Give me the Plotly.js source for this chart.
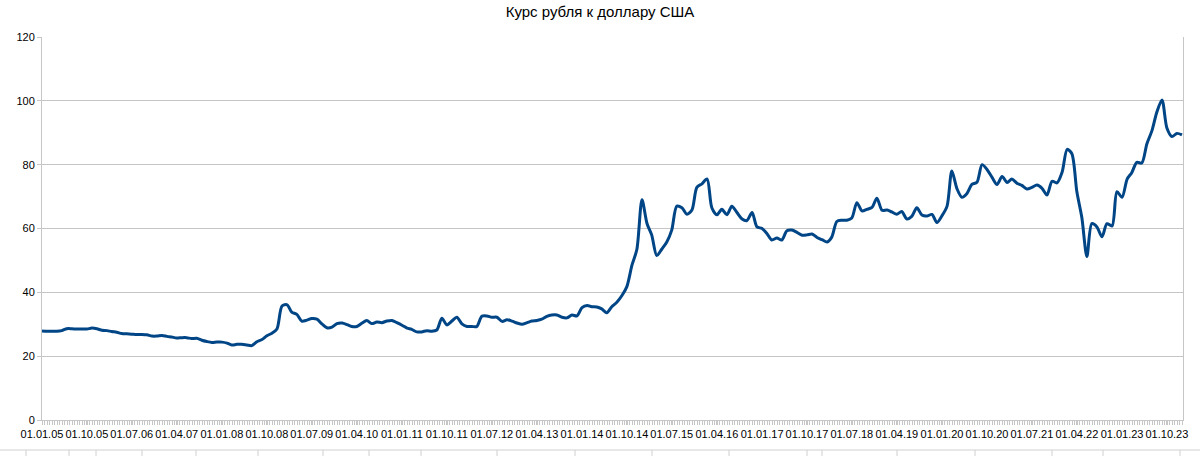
<!DOCTYPE html>
<html>
<head>
<meta charset="utf-8">
<script src="https://cdn.plot.ly/plotly-3.0.1.min.js"></script>
<style>
html,body{margin:0;padding:0;background:#fff;}
#chart{width:1200px;height:456px;}
</style>
</head>
<body>
<div id="chart"></div>
<script>
// Monthly values (RUB per USD), one array per year, Jan..Dec
const y2005 = [27.9, 27.8, 27.8, 27.8, 28.0, 28.6, 28.6, 28.5, 28.5, 28.5, 28.8, 28.6];
const y2006 = [28.1, 28.0, 27.7, 27.5, 27.1, 27.0, 26.9, 26.8, 26.8, 26.7, 26.3, 26.3];
const y2007 = [26.5, 26.2, 26.0, 25.7, 25.8, 25.8, 25.5, 25.6, 25.0, 24.6, 24.3, 24.4];
const y2008 = [24.4, 24.1, 23.5, 23.7, 23.7, 23.5, 23.3, 24.5, 25.2, 26.4, 27.2, 28.5];
const y2009 = [35.7, 36.1, 33.8, 33.1, 31.0, 31.3, 31.8, 31.6, 30.1, 28.9, 29.1, 30.2];
const y2010 = [30.4, 29.9, 29.3, 29.3, 30.3, 31.2, 30.2, 30.7, 30.5, 31.0, 31.2, 30.5];
const y2011 = [29.7, 28.8, 28.4, 27.6, 27.6, 28.0, 27.8, 28.2, 31.9, 29.8, 31.0, 32.2];
const y2012 = [30.1, 29.3, 29.3, 29.3, 32.5, 32.6, 32.2, 32.2, 30.9, 31.4, 31.0, 30.4];
const y2013 = [30.0, 30.5, 31.0, 31.2, 31.6, 32.5, 32.9, 32.9, 32.2, 32.0, 32.9, 32.6];
const y2014 = [35.2, 35.9, 35.5, 35.4, 34.8, 33.6, 35.5, 36.9, 39.0, 41.8, 48.5, 53.5];
const y2015 = [69.0, 61.5, 58.0, 51.5, 53.5, 55.8, 59.5, 67.0, 66.5, 64.5, 65.8, 72.9];
const y2016 = [74.0, 75.5, 66.5, 64.3, 66.0, 64.3, 67.0, 65.0, 63.0, 62.5, 65.0, 60.5];
const y2017 = [60.0, 58.3, 56.4, 57.0, 56.4, 59.3, 59.5, 58.8, 57.9, 58.0, 58.3, 57.2];
const y2018 = [56.5, 55.8, 57.3, 62.2, 62.6, 62.6, 63.3, 68.1, 65.5, 66.0, 66.6, 69.5];
const y2019 = [65.7, 65.8, 65.2, 64.5, 65.3, 63.0, 63.8, 66.5, 64.2, 63.9, 64.4, 61.9];
const y2020 = [64.0, 67.0, 78.0, 72.5, 69.8, 71.0, 73.8, 74.5, 80.0, 78.5, 76.0, 73.8];
const y2021 = [76.3, 74.4, 75.5, 74.2, 73.5, 72.4, 72.9, 73.6, 72.6, 70.5, 74.8, 74.3];
const y2022 = [77.6, 84.8, 83.5, 71.5, 63.5, 51.2, 61.5, 60.5, 57.4, 61.5, 60.8, 71.5];
const y2023 = [69.8, 75.5, 77.5, 80.7, 80.5, 86.5, 90.5, 96.5, 100.3, 91.5, 88.8, 89.8];
const y2024 = [89.3];

const yearValues = [y2005, y2006, y2007, y2008, y2009, y2010, y2011, y2012, y2013, y2014,
                    y2015, y2016, y2017, y2018, y2019, y2020, y2021, y2022, y2023, y2024];
const firstYear = 2005;

// Tick labels on the category axis
const tickLabels = ['01.01.05','01.10.05','01.07.06','01.04.07','01.01.08','01.10.08','01.07.09',
  '01.04.10','01.01.11','01.10.11','01.07.12','01.04.13','01.01.14','01.10.14','01.07.15',
  '01.04.16','01.01.17','01.10.17','01.07.18','01.04.19','01.01.20','01.10.20','01.07.21',
  '01.04.22','01.01.23','01.10.23'];

const titleText = 'Курс рубля к доллару США';

// build series
const xs = [], ys = [];
yearValues.forEach((arr, i) => {
  arr.forEach((v, m) => {
    const mm = String(m + 1).padStart(2, '0');
    xs.push(`${firstYear + i}-${mm}-01`);
    ys.push(v);
  });
});
const tickVals = tickLabels.map(s => {
  const [d, m, y] = s.split('.');
  return `20${y}-${m}-${d}`;
});

const gridCol = '#c6c6c6';
const fontFam = '"Liberation Sans", Arial, sans-serif';

const trace = {
  x: xs, y: ys, type: 'scatter', mode: 'lines',
  line: {color: '#004586', width: 3, shape: 'spline', smoothing: 0.8},
  hoverinfo: 'skip'
};

// decorative spreadsheet cell border below the chart
const cellMarks = [26, 69, 96, 142, 196, 258, 323, 369, 421, 497, 575, 652, 729, 807, 822, 897, 975, 1052, 1103, 1180];
const L = 42, R = 1183, T = 37, B = 420;
const px = p => (p - L) / (R - L);
const py = p => (B - p) / (B - T);
const shapes = [{type: 'line', xref: 'paper', yref: 'paper', x0: px(0), x1: px(1200), y0: py(450), y1: py(450),
  line: {color: '#d0d0d0', width: 1}}];
cellMarks.forEach(c => shapes.push({type: 'line', xref: 'paper', yref: 'paper', x0: px(c), x1: px(c),
  y0: py(450), y1: py(457), line: {color: '#d0d0d0', width: 1}}));

const layout = {
  width: 1200, height: 456,
  margin: {l: L, r: 1200 - R, t: T, b: 456 - B, pad: 0},
  paper_bgcolor: '#fff', plot_bgcolor: '#fff',
  font: {family: fontFam, size: 11, color: '#000'},
  showlegend: false,
  title: {text: titleText, x: 0.5, xanchor: 'center', y: 1 - 12 / 456, yanchor: 'middle',
          font: {family: fontFam, size: 15, color: '#000'}},
  xaxis: {
    type: 'date', range: ['2005-01-01', '2024-01-07'],
    tickmode: 'array', tickvals: tickVals, ticktext: tickLabels, tickangle: 0,
    ticks: 'outside', ticklen: 4, tickcolor: gridCol, tickwidth: 1,
    minor: {ticks: 'outside', ticklen: 4, tickcolor: gridCol, tickwidth: 1, dtick: 1315008000, tick0: '2005-01-01', showgrid: false},
    showgrid: false, showline: true, linecolor: gridCol, linewidth: 1, zeroline: false,
    tickfont: {family: fontFam, size: 11, color: '#000'}, fixedrange: true
  },
  yaxis: {
    range: [0, 120], dtick: 20, tick0: 0,
    ticks: 'outside', ticklen: 4, tickcolor: gridCol, tickwidth: 1,
    showgrid: true, gridcolor: gridCol, gridwidth: 1,
    showline: true, mirror: true, linecolor: gridCol, linewidth: 1, zeroline: false,
    tickfont: {family: fontFam, size: 11, color: '#000'}, fixedrange: true
  },
  shapes: shapes
};

Plotly.newPlot('chart', [trace], layout, {displayModeBar: false, staticPlot: true});
</script>
</body>
</html>
